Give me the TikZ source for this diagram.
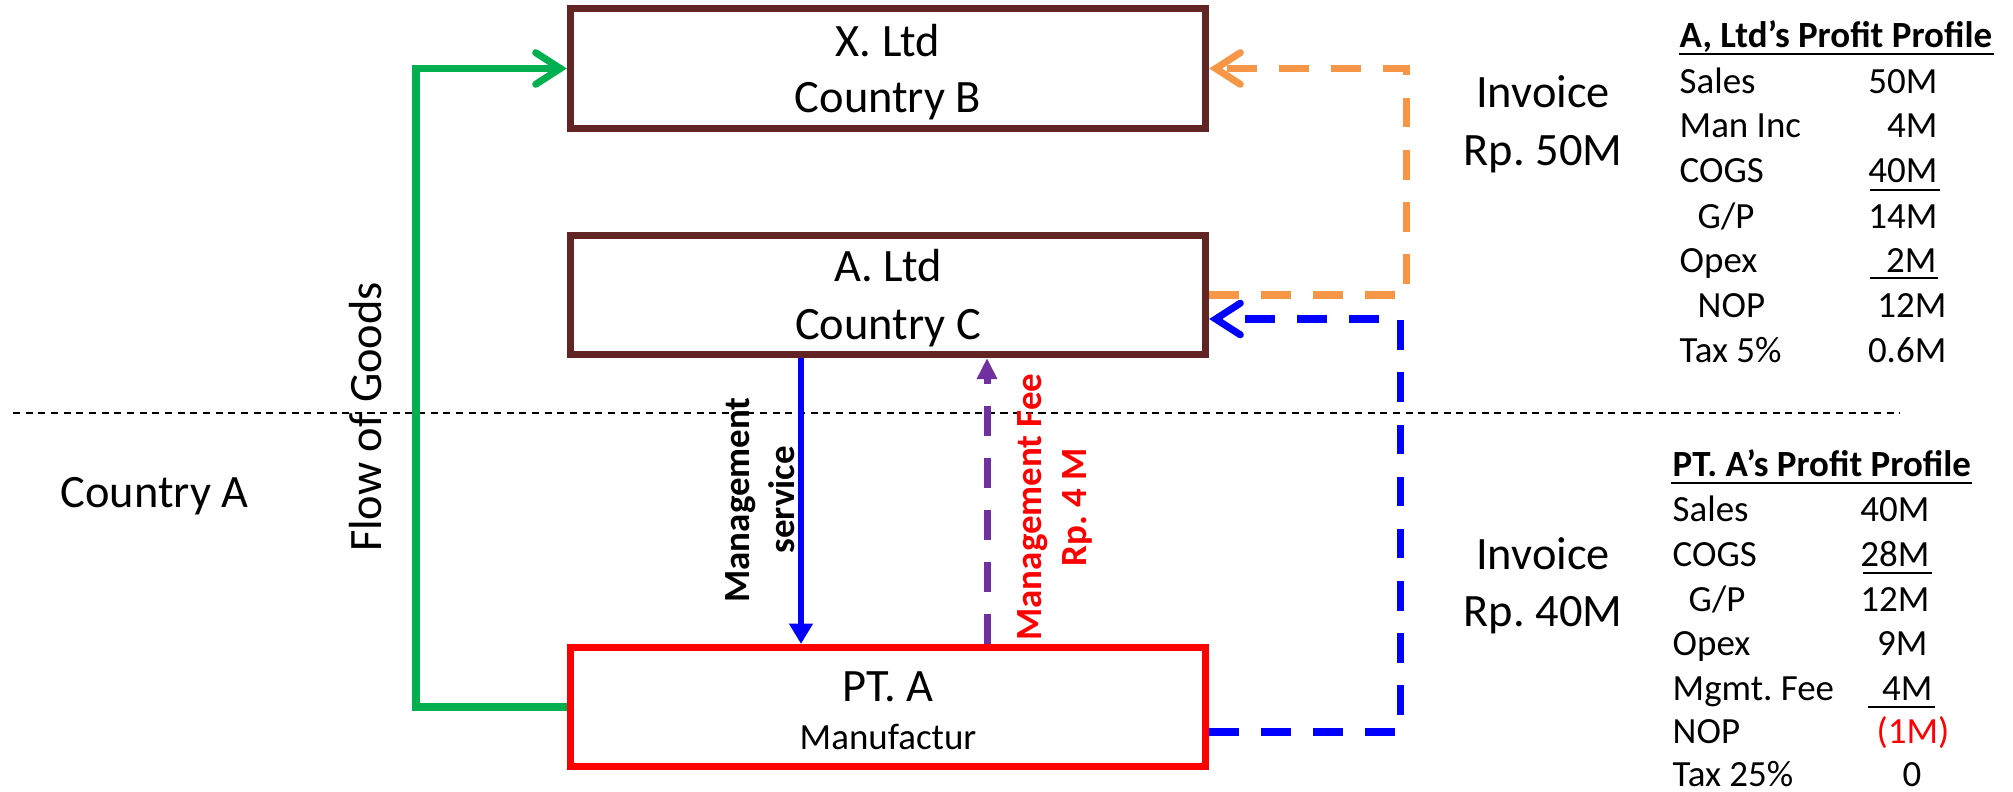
\documentclass[tikz,border=0pt]{standalone}
\usepackage{fontspec}
\setmainfont{Carlito}
\frenchspacing
\usetikzlibrary{arrows.meta}
\definecolor{boxbrown}{RGB}{99,37,35}
\definecolor{flowgreen}{RGB}{0,176,80}
\definecolor{invorange}{RGB}{247,150,70}
\definecolor{feepurple}{RGB}{112,48,160}
\definecolor{pureblue}{RGB}{0,0,255}
\definecolor{purered}{RGB}{255,0,0}
\begin{document}
\begin{tikzpicture}[x=0.01cm,y=-0.01cm,
  box/.style={draw=boxbrown,line width=2pt,minimum width=6.35cm,minimum height=1.19cm,inner sep=0pt,fill=white},
  big/.style={font=\fontsize{13.2}{15.8}\selectfont,inner sep=0pt},
  small/.style={font=\fontsize{10.5}{12.6}\selectfont,inner sep=0pt},
  boldsmall/.style={font=\bfseries\fontsize{10.5}{12.8}\selectfont,inner sep=0pt},
  lbl/.style={small,anchor=base west},
  val/.style={small,anchor=base east},
  ttl/.style={boldsmall,anchor=base west},
  uline/.style={line width=0.65pt},
  dashpat/.style={dash pattern=on 8.5pt off 6.3pt},
  barb/.style={-{Straight Barb[length=7pt,width=9pt,line cap=round]}},
  flowarrow/.style={draw=flowgreen,line width=2pt,barb},
  invoicearrow/.style={line width=2pt,dashpat,barb},
  msarrow/.style={draw=pureblue,line width=1.8pt,-{Triangle[length=5.8pt,width=6.5pt]}},
  feearrow/.style={draw=feepurple,line width=2pt,dashpat,-{Triangle[length=6pt,width=5.5pt]}}
]
\useasboundingbox (0,0) rectangle (2013,792);

% country border line
\coordinate (hl) at (13,413);
\coordinate (hr) at (1900,413);
\draw[line width=0.6pt,dash pattern=on 2pt off 1.6pt] (hl) -- (hr);

% boxes
\node[box] (X) at (888,68.5) {};
\node[box] (A) at (888,295) {};
\node[box,draw=purered] (PT) at (888,707) {};

\node[big,anchor=base] (Xt1) at (888,57) {X. Ltd};
\node[big,anchor=base] (Xt2) at (888,113) {Country B};
\node[big,anchor=base] (At1) at (888,282) {A. Ltd};
\node[big,anchor=base] (At2) at (888,340) {Country C};
\node[big,anchor=base] (Pt1) at (888,702) {PT. A};
\node[small,anchor=base] (Pt2) at (888,749) {Manufactur};

% flow of goods
\coordinate (gx) at (416,0);
\draw[flowarrow] (PT.west) -- (PT.west -| gx) -- (X.west -| gx) -- (X.west);
\node[big,rotate=90] (flow) at (366,417) {Flow of Goods};

% invoice from A to X
\coordinate (ox) at (1406,0);
\draw[invoicearrow,draw=invorange] (A.east) -- (A.east -| ox) -- (X.east -| ox) -- (X.east);

% invoice from PT to A
\coordinate (bx) at (1400,0);
\coordinate (pb) at ([yshift=-0.25cm]PT.east);
\coordinate (ab) at ([yshift=-0.24cm]A.east);
\draw[invoicearrow,draw=pureblue] (pb) -- (pb -| bx) -- (ab -| bx) -- (ab);

% management service
\coordinate (msx) at (801,0);
\draw[msarrow] (A.south -| msx) -- (PT.north -| msx);
\node[boldsmall,rotate=90,align=center] (mst) at (760,500) {Management\\service};

% management fee
\coordinate (mfx) at (987,0);
\draw[feearrow] (PT.north -| mfx) -- (A.south -| mfx);
\node[boldsmall,rotate=90,align=center,text=purered] (mft) at (1055,507) {Management Fee\\Rp. 4 M};

% country A
\node[big,anchor=base west] (ca) at (60,508) {Country A};

% invoice labels
\node[big,anchor=base] (inv1a) at (1543,108) {Invoice};
\node[big,anchor=base] (inv1b) at (1543,166) {Rp. 50M};
\node[big,anchor=base] (inv2a) at (1543,570) {Invoice};
\node[big,anchor=base] (inv2b) at (1543,627) {Rp. 40M};

% A, Ltd profile
\node[ttl] (t1) at (1679,48) {A, Ltd’s Profit Profile};
\draw[uline] (1679,54) -- (1994,54);
\node[lbl] (t1l1) at (1679,94) {Sales};
\node[lbl] (t1l2) at (1679,138) {Man Inc};
\node[lbl] (t1l3) at (1679,183) {COGS};
\node[lbl] (t1l4) at (1697,229) {G/P};
\node[lbl] (t1l5) at (1679,273) {Opex};
\node[lbl] (t1l6) at (1697,318) {NOP};
\node[lbl] (t1l7) at (1679,363) {Tax 5\%};
\node[val] (t1v1) at (1938,94) {50M};
\node[val] (t1v2) at (1938,138) {4M};
\node[val] (t1v3) at (1938,183) {40M};
\node[val] (t1v4) at (1938,229) {14M};
\node[val] (t1v5) at (1937,273) {2M};
\node[val] (t1v6) at (1947,318) {12M};
\node[val] (t1v7) at (1947,363) {0.6M};
\draw[uline] (1870,190) -- (1940,190);
\draw[uline] (1870,278) -- (1938,278);

% PT. A profile
\node[ttl] (t2) at (1672,477) {PT. A’s Profit Profile};
\draw[uline] (1671,483) -- (1972,483);
\node[lbl] (t2l1) at (1672,522) {Sales};
\node[lbl] (t2l2) at (1672,567) {COGS};
\node[lbl] (t2l3) at (1688,612) {G/P};
\node[lbl] (t2l4) at (1672,656) {Opex};
\node[lbl] (t2l5) at (1672,700) {Mgmt. Fee};
\node[lbl] (t2l6) at (1672,744) {NOP};
\node[lbl] (t2l7) at (1672,786) {Tax 25\%};
\node[val] (t2v1) at (1930,522) {40M};
\node[val] (t2v2) at (1930,567) {28M};
\node[val] (t2v3) at (1930,612) {12M};
\node[val] (t2v4) at (1928,656) {9M};
\node[val] (t2v5) at (1933,700) {4M};
\node[val,text=purered] (t2v6) at (1950,744) {(1M)};
\node[val] (t2v7) at (1922,786) {0};
\draw[uline] (1863,573) -- (1932,573);
\draw[uline] (1868,707) -- (1935,707);
\end{tikzpicture}
\end{document}
